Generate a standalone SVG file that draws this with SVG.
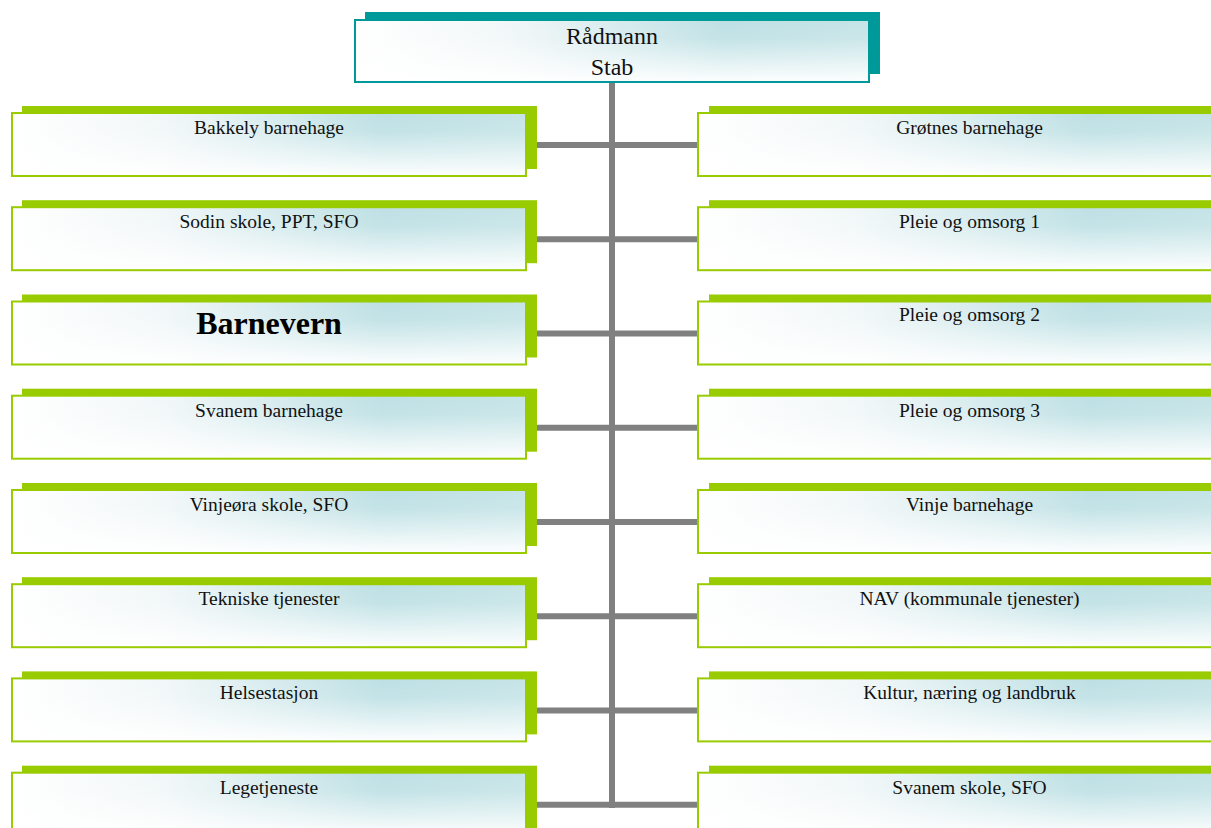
<svg xmlns="http://www.w3.org/2000/svg" width="1211" height="828" viewBox="0 0 1211 828">
<defs>
<linearGradient id="gh" x1="0" y1="0" x2="1" y2="0">
<stop offset="0" stop-color="#ffffff"/>
<stop offset="0.3" stop-color="#f1f7f8"/>
<stop offset="0.72" stop-color="#bde0e4"/>
<stop offset="1" stop-color="#c6e4e7"/>
</linearGradient>
<linearGradient id="gv" x1="0" y1="0" x2="0" y2="1">
<stop offset="0" stop-color="#ffffff" stop-opacity="0"/>
<stop offset="0.3" stop-color="#ffffff" stop-opacity="0.1"/>
<stop offset="1" stop-color="#ffffff" stop-opacity="0.97"/>
</linearGradient>
</defs>
<style>
.sg{fill:#99cc00}
.st{fill:#009999}
.bx{fill:url(#gh)}
.ov{fill:url(#gv)}
.bg{fill:none;stroke:#99cc00;stroke-width:2}
.bt{fill:none;stroke:#009999;stroke-width:2}
.in{fill:none;stroke:#cfe68a;stroke-width:1}
.lb{font-family:"Liberation Serif","Times New Roman",serif;font-size:19.5px;fill:#111;text-anchor:middle}
.big{font-family:"Liberation Serif","Times New Roman",serif;font-size:32px;font-weight:bold;fill:#000;text-anchor:middle}
.top{font-family:"Liberation Serif","Times New Roman",serif;font-size:24px;fill:#111;text-anchor:middle}
.cn{stroke:#808080;stroke-width:6;fill:none}
</style>
<rect width="1211" height="828" fill="#ffffff"/>

<g id="connectors">
<line class="cn" x1="612" y1="82" x2="612" y2="808"/>
<line class="cn" x1="527" y1="145" x2="698" y2="145"/>
<line class="cn" x1="527" y1="239.2" x2="698" y2="239.2"/>
<line class="cn" x1="527" y1="333.5" x2="698" y2="333.5"/>
<line class="cn" x1="527" y1="427.7" x2="698" y2="427.7"/>
<line class="cn" x1="527" y1="522" x2="698" y2="522"/>
<line class="cn" x1="527" y1="616.2" x2="698" y2="616.2"/>
<line class="cn" x1="527" y1="710.4" x2="698" y2="710.4"/>
<line class="cn" x1="527" y1="804.7" x2="698" y2="804.7"/>
</g>

<g id="radmann">
<rect class="st" x="365" y="12" width="515" height="62"/>
<rect class="bx" x="355" y="20" width="514" height="62"/>
<rect class="ov" x="355" y="20" width="514" height="62"/>
<rect class="bt" x="355" y="20" width="514" height="62"/>
<text class="top" x="612" y="44">Rådmann</text>
<text class="top" x="612" y="75">Stab</text>
</g>

<g id="bakkely">
<rect class="sg" x="22" y="106" width="515" height="63"/>
<rect class="bx" x="12" y="113" width="514" height="63"/>
<rect class="ov" x="12" y="113" width="514" height="63"/>
<rect class="bg" x="12" y="113" width="514" height="63"/>
<text class="lb" x="269" y="134">Bakkely barnehage</text>
</g>
<g id="sodin">
<rect class="sg" x="22" y="200.2" width="515" height="63"/>
<rect class="bx" x="12" y="207.2" width="514" height="63"/>
<rect class="ov" x="12" y="207.2" width="514" height="63"/>
<rect class="bg" x="12" y="207.2" width="514" height="63"/>
<text class="lb" x="269" y="228.2">Sodin skole, PPT, SFO</text>
</g>
<g id="barnevern">
<rect class="sg" x="22" y="294.5" width="515" height="63"/>
<rect class="bx" x="12" y="301.5" width="514" height="63"/>
<rect class="ov" x="12" y="301.5" width="514" height="63"/>
<rect class="bg" x="12" y="301.5" width="514" height="63"/>
<text class="big" x="269" y="334.3">Barnevern</text>
</g>
<g id="svanem-bhg">
<rect class="sg" x="22" y="388.7" width="515" height="63"/>
<rect class="bx" x="12" y="395.7" width="514" height="63"/>
<rect class="ov" x="12" y="395.7" width="514" height="63"/>
<rect class="bg" x="12" y="395.7" width="514" height="63"/>
<text class="lb" x="269" y="416.7">Svanem barnehage</text>
</g>
<g id="vinjeora">
<rect class="sg" x="22" y="483" width="515" height="63"/>
<rect class="bx" x="12" y="490" width="514" height="63"/>
<rect class="ov" x="12" y="490" width="514" height="63"/>
<rect class="bg" x="12" y="490" width="514" height="63"/>
<text class="lb" x="269" y="511">Vinjeøra skole, SFO</text>
</g>
<g id="tekniske">
<rect class="sg" x="22" y="577.2" width="515" height="63"/>
<rect class="bx" x="12" y="584.2" width="514" height="63"/>
<rect class="ov" x="12" y="584.2" width="514" height="63"/>
<rect class="bg" x="12" y="584.2" width="514" height="63"/>
<text class="lb" x="269" y="605.2">Tekniske tjenester</text>
</g>
<g id="helsestasjon">
<rect class="sg" x="22" y="671.4" width="515" height="63"/>
<rect class="bx" x="12" y="678.4" width="514" height="63"/>
<rect class="ov" x="12" y="678.4" width="514" height="63"/>
<rect class="bg" x="12" y="678.4" width="514" height="63"/>
<text class="lb" x="269" y="699.4">Helsestasjon</text>
</g>
<g id="legetjeneste">
<rect class="sg" x="22" y="765.7" width="515" height="63"/>
<rect class="bx" x="12" y="772.7" width="514" height="63"/>
<rect class="ov" x="12" y="772.7" width="514" height="63"/>
<rect class="bg" x="12" y="772.7" width="514" height="63"/>
<text class="lb" x="269" y="793.7">Legetjeneste</text>
</g>

<g id="grotnes">
<rect class="sg" x="709" y="106" width="543" height="63"/>
<rect class="bx" x="698" y="113" width="543" height="63"/>
<rect class="ov" x="698" y="113" width="543" height="63"/>
<rect class="bg" x="698" y="113" width="543" height="63"/>
<text class="lb" x="969.5" y="134">Grøtnes barnehage</text>
</g>
<g id="pleie1">
<rect class="sg" x="709" y="200.2" width="543" height="63"/>
<rect class="bx" x="698" y="207.2" width="543" height="63"/>
<rect class="ov" x="698" y="207.2" width="543" height="63"/>
<rect class="bg" x="698" y="207.2" width="543" height="63"/>
<text class="lb" x="969.5" y="228.2">Pleie og omsorg 1</text>
</g>
<g id="pleie2">
<rect class="sg" x="709" y="294.5" width="543" height="63"/>
<rect class="bx" x="698" y="301.5" width="543" height="63"/>
<rect class="ov" x="698" y="301.5" width="543" height="63"/>
<rect class="bg" x="698" y="301.5" width="543" height="63"/>
<text class="lb" x="969.5" y="320.5">Pleie og omsorg 2</text>
</g>
<g id="pleie3">
<rect class="sg" x="709" y="388.7" width="543" height="63"/>
<rect class="bx" x="698" y="395.7" width="543" height="63"/>
<rect class="ov" x="698" y="395.7" width="543" height="63"/>
<rect class="bg" x="698" y="395.7" width="543" height="63"/>
<text class="lb" x="969.5" y="416.7">Pleie og omsorg 3</text>
</g>
<g id="vinje-bhg">
<rect class="sg" x="709" y="483" width="543" height="63"/>
<rect class="bx" x="698" y="490" width="543" height="63"/>
<rect class="ov" x="698" y="490" width="543" height="63"/>
<rect class="bg" x="698" y="490" width="543" height="63"/>
<text class="lb" x="969.5" y="511">Vinje barnehage</text>
</g>
<g id="nav">
<rect class="sg" x="709" y="577.2" width="543" height="63"/>
<rect class="bx" x="698" y="584.2" width="543" height="63"/>
<rect class="ov" x="698" y="584.2" width="543" height="63"/>
<rect class="bg" x="698" y="584.2" width="543" height="63"/>
<text class="lb" x="969.5" y="605.2">NAV (kommunale tjenester)</text>
</g>
<g id="kultur">
<rect class="sg" x="709" y="671.4" width="543" height="63"/>
<rect class="bx" x="698" y="678.4" width="543" height="63"/>
<rect class="ov" x="698" y="678.4" width="543" height="63"/>
<rect class="bg" x="698" y="678.4" width="543" height="63"/>
<text class="lb" x="969.5" y="699.4">Kultur, næring og landbruk</text>
</g>
<g id="svanem-skole">
<rect class="sg" x="709" y="765.7" width="543" height="63"/>
<rect class="bx" x="698" y="772.7" width="543" height="63"/>
<rect class="ov" x="698" y="772.7" width="543" height="63"/>
<rect class="bg" x="698" y="772.7" width="543" height="63"/>
<text class="lb" x="969.5" y="793.7">Svanem skole, SFO</text>
</g>
</svg>
